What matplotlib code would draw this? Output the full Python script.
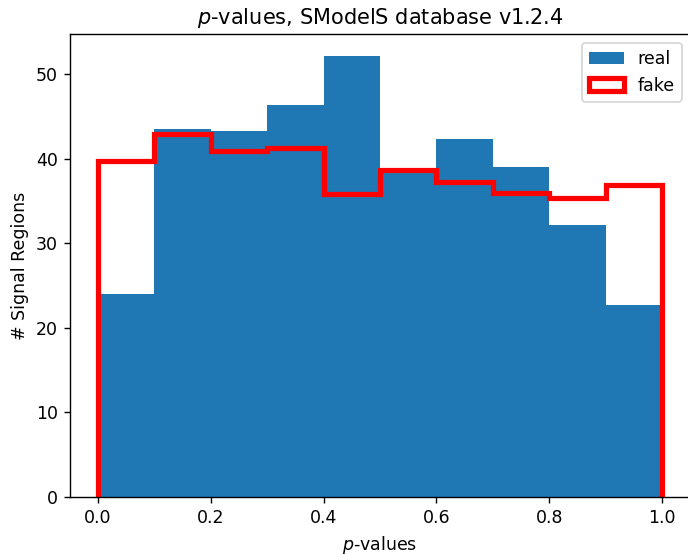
import matplotlib
matplotlib.use('Agg')
import matplotlib.pyplot as plt
import numpy as np

# Histogram bin edges and counts
bin_edges = [0.0, 0.1, 0.2, 0.3, 0.4, 0.5, 0.6, 0.7, 0.8, 0.9, 1.0]
real_counts = [24.0, 43.5, 43.3, 46.4, 52.15, 38.5, 42.3, 39.1, 32.15, 22.7]
fake_counts = [39.7, 42.9, 40.9, 41.3, 35.9, 38.7, 37.3, 36.0, 35.4, 36.9]

bin_centers = [(a + b) / 2 for a, b in zip(bin_edges[:-1], bin_edges[1:])]

# rendered at 125 dpi so default text/lines come out a bit larger
fig = plt.figure(figsize=(688 / 125, 554 / 125), dpi=125)
ax = fig.add_axes([69.8 / 688, 1 - 496.7 / 554, 620.4 / 688, (496.7 - 34.3) / 554])

ax.hist(bin_centers, bins=bin_edges, weights=real_counts, label='real')
ax.hist(bin_centers, bins=bin_edges, weights=fake_counts, histtype='step',
        color='red', linewidth=3, label='fake')

ax.set_title('$p$-values, SModelS database v1.2.4')
ax.set_xlabel('$p$-values')
ax.set_ylabel('# Signal Regions')
ax.legend(loc='upper right')

plt.savefig('out.png', dpi=125)
